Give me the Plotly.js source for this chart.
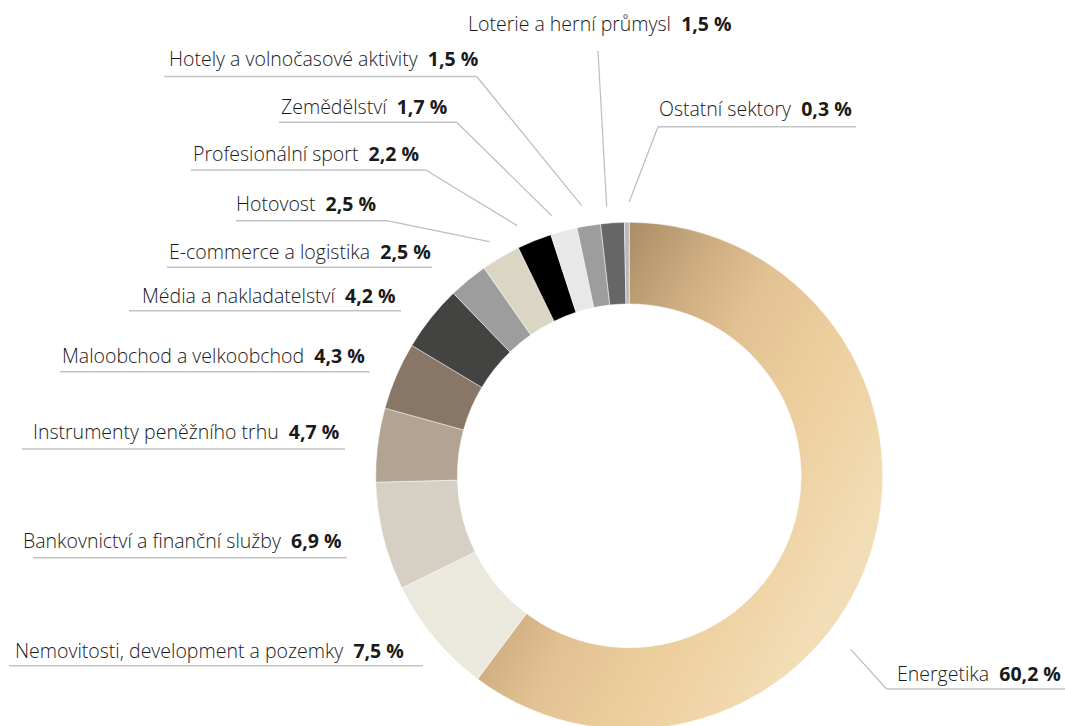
<!DOCTYPE html>
<html>
<head>
<meta charset="utf-8">
<script src="https://cdn.plot.ly/plotly-3.0.1.min.js"></script>
<style>
html,body{margin:0;padding:0;overflow:hidden;background:#fff;}
#chart{width:1065px;height:732px;}
</style>
</head>
<body>
<div id="chart"></div>
<script>
// ---- data ----
const sectors = [
  "Energetika",
  "Nemovitosti, development a pozemky",
  "Bankovnictví a finanční služby",
  "Instrumenty peněžního trhu",
  "Maloobchod a velkoobchod",
  "Média a nakladatelství",
  "E-commerce a logistika",
  "Hotovost",
  "Profesionální sport",
  "Zemědělství",
  "Hotely a volnočasové aktivity",
  "Loterie a herní průmysl",
  "Ostatní sektory"
];
const shares = [60.2, 7.5, 6.9, 4.7, 4.3, 4.2, 2.5, 2.5, 2.2, 1.7, 1.5, 1.5, 0.3];
const sliceColors = ["#e3c18f", "#ebe8dd", "#d6cfc3", "#b3a392", "#887766", "#434342",
                     "#9d9d9d", "#dbd6c4", "#000000", "#e8e8e8", "#9d9d9d", "#666666", "#b8b8b8"];

// ---- label layout (pixel positions of text, underline and leader line) ----
// side: 'L' text right-aligned at tx, 'R' text left-aligned at tx, 'C' centered
const labelLayout = [
  {side:'R', tx:897, ty:673, ul:[886.7,1065,689], lead:[[886.7,689],[850.7,649.3]]},
  {side:'L', tx:404, ty:650, ul:[9,423,665.7]},
  {side:'L', tx:342, ty:540, ul:[33,347,557.7]},
  {side:'L', tx:338.5, ty:431, ul:[22,345,449]},
  {side:'L', tx:364.5, ty:355, ul:[60,370,371.7]},
  {side:'L', tx:396, ty:295.5, ul:[129,401,310.7]},
  {side:'L', tx:431, ty:251.5, ul:[167,432,267.3]},
  {side:'L', tx:375.5, ty:203, ul:[236,386.7,220.7], lead:[[386.7,220.7],[489.3,241.7]]},
  {side:'L', tx:418.5, ty:153, ul:[191,425.7,170], lead:[[425.7,170],[517.3,225.7]]},
  {side:'L', tx:446.5, ty:106, ul:[279,456.7,122.3], lead:[[456.7,122.3],[551.7,215.7]]},
  {side:'L', tx:478, ty:58.8, ul:[164,476.7,76.5], lead:[[476.7,76.5],[581.7,205.7]]},
  {side:'C', tx:599.5, ty:23.8, lead:[[598,51],[606.7,206.7]]},
  {side:'R', tx:659.3, ty:108.3, ul:[658,856,126.7], lead:[[658,126.7],[629.3,201.7]]}
];

const W = 1065, H = 732;
const fx = x => x / W;
const fy = y => 1 - y / H;
const fmt = v => v.toFixed(1).replace('.', ',') + '\u00a0%';

const annotations = [];
const shapes = [];
sectors.forEach((name, i) => {
  const L = labelLayout[i];
  annotations.push({
    xref:'paper', yref:'paper', x: fx(L.tx), y: fy(L.ty),
    xanchor: L.side === 'L' ? 'right' : (L.side === 'R' ? 'left' : 'center'),
    yanchor:'middle', showarrow:false, borderpad:0, borderwidth:0,
    text: name + '\u00a0\u00a0<b>' + fmt(shares[i]) + '</b>',
    font:{family:'"Open Sans", sans-serif', size:19.5, color:'#1a1a1a', weight:300}
  });
  if (L.ul) {
    shapes.push({type:'line', xref:'paper', yref:'paper',
      x0: fx(L.ul[0]), x1: fx(L.ul[1]), y0: fy(L.ul[2]), y1: fy(L.ul[2]),
      line:{color:'#c4c4c4', width:1.5}});
  }
  if (L.lead) {
    shapes.push({type:'line', xref:'paper', yref:'paper',
      x0: fx(L.lead[0][0]), y0: fy(L.lead[0][1]), x1: fx(L.lead[1][0]), y1: fy(L.lead[1][1]),
      line:{color:'#bdbdbd', width:1.2}});
  }
});

const trace = {
  type:'pie',
  labels: sectors,
  values: shares,
  sort:false,
  direction:'clockwise',
  rotation:0,
  hole:0.678,
  textinfo:'none',
  hoverinfo:'none',
  marker:{colors: sliceColors, line:{color:'#ffffff', width:0.5}},
  domain:{x:[375.7/W, 882.7/W], y:[(256.2-253.5)/H, (256.2+253.5)/H]}
};

const layout = {
  width:W, height:H,
  margin:{l:0,r:0,t:0,b:0},
  showlegend:false,
  paper_bgcolor:'#ffffff',
  plot_bgcolor:'#ffffff',
  annotations: annotations,
  shapes: shapes
};

Plotly.newPlot('chart', [trace], layout, {staticPlot:true, displayModeBar:false}).then(gd => {
  // gold gradient on the largest slice
  const svg = gd.querySelector('svg.main-svg');
  const NS = 'http://www.w3.org/2000/svg';
  let defs = svg.querySelector('defs');
  if (!defs) { defs = document.createElementNS(NS, 'defs'); svg.insertBefore(defs, svg.firstChild); }
  const g = document.createElementNS(NS, 'linearGradient');
  g.setAttribute('id', 'goldGrad');
  g.setAttribute('x1', '0.2'); g.setAttribute('y1', '0');
  g.setAttribute('x2', '1'); g.setAttribute('y2', '0.55');
  [[0,'#9e835e'],[0.15,'#aa8d66'],[0.35,'#cfae82'],[0.5,'#e2c192'],[0.72,'#edcf9e'],[0.88,'#f0d6aa'],[1,'#f3ddb6']].forEach(s => {
    const st = document.createElementNS(NS, 'stop');
    st.setAttribute('offset', s[0]); st.setAttribute('stop-color', s[1]);
    g.appendChild(st);
  });
  defs.appendChild(g);
  const p = gd.querySelector('.slice path.surface');
  if (p) p.style.fill = 'url(#goldGrad)';
});
</script>
</body>
</html>
